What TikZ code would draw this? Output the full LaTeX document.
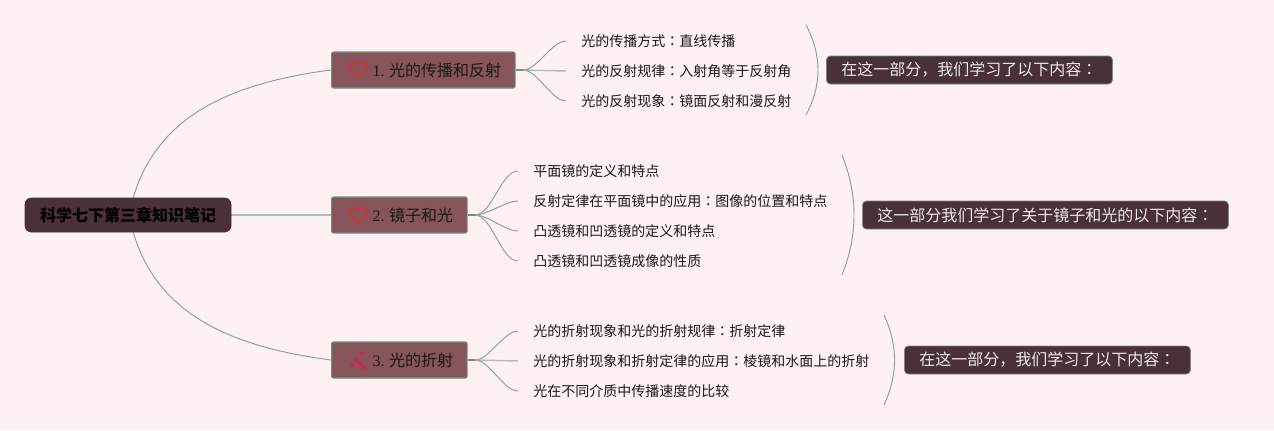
\documentclass[tikz,border=0pt]{standalone}
\usepackage{fontspec}
\usepackage{xcolor}
\setmainfont{Liberation Serif}
\newfontfamily\cjk{Noto Sans CJK SC}
\newfontfamily\cjkmark{Noto Sans CJK TC}
\newcommand{\midcolon}{{\cjkmark ：}}
\usetikzlibrary{backgrounds}
\definecolor{Mind_Paper}{HTML}{FFF0F2}
\definecolor{Mind_Rose}{HTML}{86545A}
\definecolor{Mind_Dark}{HTML}{4A3135}
\definecolor{Mind_Edge}{HTML}{6F8F84}
\definecolor{Mind_Line}{HTML}{7FA698}
\definecolor{Mind_Flat}{HTML}{A3C4B5}
\definecolor{Mind_Heart}{HTML}{CC362E}
\definecolor{Mind_Pink}{HTML}{DC1C52}
\tikzset{
    hub/.style={draw=Mind_Dark, fill=Mind_Dark, rounded corners=4.5pt, minimum height=25.5pt, inner xsep=0pt, inner ysep=0pt, font=\fontsize{12}{14}\selectfont\cjk\bfseries, text=black},
    branch/.style={draw=Mind_Edge, fill=Mind_Rose, rounded corners=1.5pt, line width=0.8pt, minimum height=27pt, anchor=west, inner xsep=10.5pt, inner ysep=0pt, font=\fontsize{12}{14}\selectfont, text=black!90},
    leaf/.style={anchor=west, inner xsep=11.25pt, inner ysep=0pt, font=\fontsize{10.5}{12}\selectfont\cjk, text=black!90},
    summary/.style={draw=Mind_Edge, fill=Mind_Dark, rounded corners=3pt, line width=0.6pt, minimum height=21pt, anchor=west, inner xsep=11.25pt, inner ysep=0pt, font=\fontsize{12}{14}\selectfont\cjk, text=white!92!black},
    link/.style={draw=Mind_Line, line width=0.7pt},
    flatlink/.style={draw=Mind_Flat, line width=1.1pt},
    stublink/.style={draw=Mind_Edge, line width=1.3pt},
    heartmark/.pic={\draw[Mind_Heart, line width=1.4pt, line join=round] (0,7) .. controls (-3,4) and (-9,0) .. (-9,-3.5) .. controls (-9,-9) and (-2,-9) .. (0,-4.5) .. controls (2,-9) and (9,-9) .. (9,-3.5) .. controls (9,0) and (3,4) .. (0,7) -- cycle;},
    wandmark/.pic={
        \fill[Mind_Pink] (4,-7.7) circle (2);
        \draw[Mind_Pink, line width=1.8pt] (-3,-2) -- (8,8);
        \draw[Mind_Pink, line width=2.2pt] (-7,5) -- (-4.5,2.5);
    }
}
\begin{document}
\begin{tikzpicture}[x=0.75pt, y=-0.75pt]
    \useasboundingbox (0,0) rectangle (1274,430);

    % Root and topics
    \node[hub, minimum width=154.5pt] (root) at (128,215) {科学七下第三章知识笔记};
    \node[branch] (topicA) at (331,70) {\hspace{20.25pt}1.\hspace{3.5pt}{\cjk 光的传播和反射}};
    \node[branch] (topicB) at (331,215) {\hspace{20.25pt}2.\hspace{3.5pt}{\cjk 镜子和光}};
    \node[branch] (topicC) at (331,360) {\hspace{20.25pt}3.\hspace{3.5pt}{\cjk 光的折射}};

    % Icons
    \pic at (358,70) {heartmark};
    \pic at (358,215) {heartmark};
    \pic at (358,361) {wandmark};

    % First topic
    \coordinate (fanA) at (523,70);
    \node[leaf] (leafA1) at (566,41) {光的传播方式\midcolon 直线传播};
    \node[leaf] (leafA2) at (566,71) {光的反射规律\midcolon 入射角等于反射角};
    \node[leaf] (leafA3) at (566,101) {光的反射现象\midcolon 镜面反射和漫反射};
    \node[summary] (sumA) at (826,70) {在这一部分，我们学习了以下内容\midcolon};

    % Second topic
    \coordinate (fanB) at (475,215);
    \node[leaf] (leafB1) at (518,171) {平面镜的定义和特点};
    \node[leaf] (leafB2) at (518,201) {反射定律在平面镜中的应用\midcolon 图像的位置和特点};
    \node[leaf] (leafB3) at (518,231) {凸透镜和凹透镜的定义和特点};
    \node[leaf] (leafB4) at (518,261) {凸透镜和凹透镜成像的性质};
    \node[summary] (sumB) at (862,215) {这一部分我们学习了关于镜子和光的以下内容\midcolon};

    % Third topic
    \coordinate (fanC) at (475,360);
    \node[leaf] (leafC1) at (518,331) {光的折射现象和光的折射规律\midcolon 折射定律};
    \node[leaf] (leafC2) at (518,361) {光的折射现象和折射定律的应用\midcolon 棱镜和水面上的折射};
    \node[leaf] (leafC3) at (518,391) {光在不同介质中传播速度的比较};
    \node[summary] (sumC) at (904,360) {在这一部分，我们学习了以下内容\midcolon};

    % Closing arcs
    \coordinate (arcA1) at (806,25);
    \coordinate (arcA2) at (806,115);
    \coordinate (arcB1) at (842,155);
    \coordinate (arcB2) at (842,275);
    \coordinate (arcC1) at (884,315);
    \coordinate (arcC2) at (884,405);

    \begin{scope}[on background layer]
        \fill[Mind_Paper] (0,0) rectangle (1274,430);
        \draw[link] (root) .. controls (155,125) and (215,85) .. (topicA.west);
        \draw[flatlink] (root) -- (topicB.west);
        \draw[link] (root) .. controls (155,305) and (215,345) .. (topicC.west);
        \draw[flatlink] (fanA) -- (leafA2.west);
        \draw[flatlink] (fanC) -- (leafC2.west);
        \foreach \n in {1,3} {
            \draw[link] (fanA) to[out=0, in=180, looseness=0.7] (leafA\n.west);
        }
        \foreach \n in {1,2,3,4} {
            \draw[link] (fanB) to[out=0, in=180, looseness=0.7] (leafB\n.west);
        }
        \foreach \n in {1,3} {
            \draw[link] (fanC) to[out=0, in=180, looseness=0.7] (leafC\n.west);
        }
        \draw[stublink] (topicA.east) -- (fanA);
        \draw[stublink] (topicB.east) -- (fanB);
        \draw[stublink] (topicC.east) -- (fanC);
        \draw[link] (arcA1) .. controls (822,55) and (822,85) .. (arcA2);
        \draw[link] (arcB1) .. controls (858,195) and (858,235) .. (arcB2);
        \draw[link] (arcC1) .. controls (898,345) and (898,375) .. (arcC2);
    \end{scope}
\end{tikzpicture}
\end{document}
